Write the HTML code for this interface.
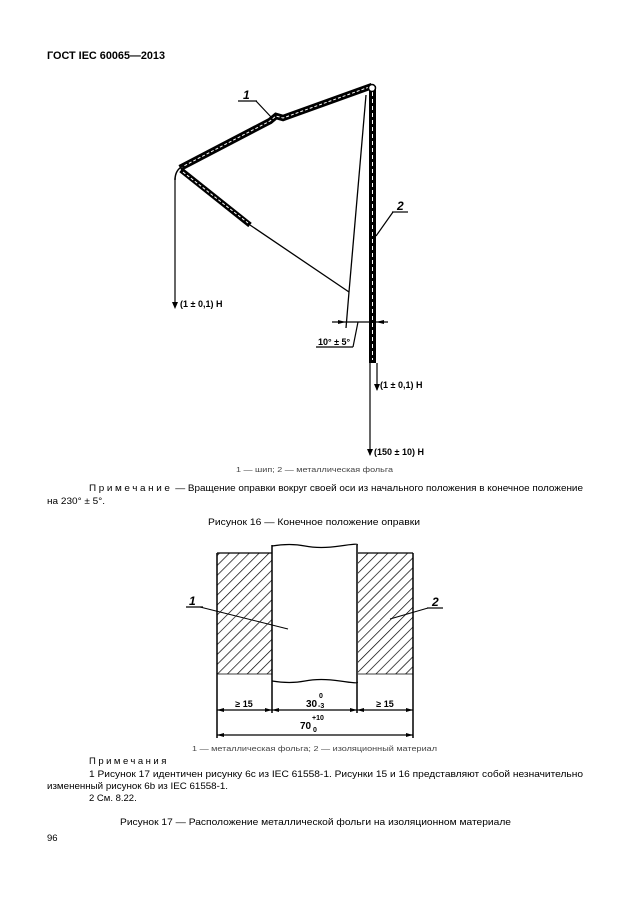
<!DOCTYPE html>
<html><head><meta charset="utf-8"><style>
html,body{margin:0;padding:0;background:#fff;}
svg{display:block;}
text{font-family:"Liberation Sans",sans-serif;}
</style></head><body>
<svg width="630" height="913" viewBox="0 0 630 913" xmlns="http://www.w3.org/2000/svg">
<defs>
<pattern id="h" width="7" height="7" patternUnits="userSpaceOnUse" patternTransform="rotate(45)">
<line x1="0" y1="0" x2="0" y2="7" stroke="#000" stroke-width="1.4"/>
</pattern>
</defs>
<text x="47" y="59" font-size="11" font-weight="bold" textLength="118" lengthAdjust="spacingAndGlyphs">ГОСТ IEC 60065—2013</text>

<!-- Figure 16 -->
<g fill="none" stroke="#000">
<path d="M180,168 L270,121 L276,116 L283,118 L372,86" stroke-width="6.5"/>
<path d="M180,168 L270,121 L276,116 L283,118 L372,86" stroke="#fff" stroke-width="1" stroke-dasharray="3,2"/>
<line x1="372.5" y1="86" x2="372.5" y2="363" stroke-width="7"/>
<line x1="372.5" y1="92" x2="372.5" y2="360" stroke="#fff" stroke-width="1" stroke-dasharray="4,3"/>
<circle cx="372" cy="88" r="3.5" fill="#fff" stroke-width="1.5"/>
<line x1="181" y1="170" x2="250" y2="225" stroke-width="5.5"/>
<line x1="183" y1="172" x2="248" y2="223" stroke="#fff" stroke-width="1" stroke-dasharray="3,2"/>
<path d="M183,166 Q175,170 175,180" stroke-width="1.5"/>
<line x1="250" y1="225" x2="349" y2="292" stroke-width="1.3"/>
<line x1="366" y1="95" x2="349" y2="292" stroke-width="1.3"/>
<line x1="349" y1="292" x2="346" y2="328" stroke-width="1.3"/>
<line x1="175" y1="178" x2="175" y2="307" stroke-width="1.2"/>
<line x1="377" y1="363" x2="377" y2="390" stroke-width="1.2"/>
<line x1="370" y1="363" x2="370" y2="455" stroke-width="1.2"/>
<line x1="332" y1="322" x2="388" y2="322" stroke-width="1.2"/>
<line x1="358" y1="322" x2="353" y2="347" stroke-width="1.2"/>
<line x1="316" y1="347" x2="353" y2="347" stroke-width="1.2"/>
<line x1="238" y1="101" x2="257" y2="101" stroke-width="1.2"/>
<line x1="256" y1="101" x2="272" y2="118" stroke-width="1.2"/>
<line x1="392" y1="212" x2="408" y2="212" stroke-width="1.2"/>
<line x1="393" y1="212" x2="376" y2="236" stroke-width="1.2"/>
</g>
<g fill="#000">
<polygon points="172,302 178,302 175,309"/>
<polygon points="374,384 380,384 377,391"/>
<polygon points="367,449 373,449 370,456"/>
<polygon points="338,320 346,322 338,324"/>
<polygon points="384,320 376,322 384,324"/>
</g>
<text x="243" y="99" font-size="12" font-weight="bold" font-style="italic">1</text>
<text x="397" y="210" font-size="12" font-weight="bold" font-style="italic">2</text>
<text x="180" y="307" font-size="9" font-weight="bold">(1 ± 0,1) H</text>
<text x="318" y="345" font-size="9" font-weight="bold">10° ± 5°</text>
<text x="380" y="388" font-size="9" font-weight="bold">(1 ± 0,1) H</text>
<text x="374" y="455" font-size="9" font-weight="bold">(150 ± 10) H</text>

<text x="236" y="472" font-size="7.5" fill="#444" textLength="157" lengthAdjust="spacingAndGlyphs">1 — шип; 2 — металлическая фольга</text>
<text x="89" y="491" font-size="9.5" textLength="494" lengthAdjust="spacingAndGlyphs"><tspan letter-spacing="2.5">Примечание</tspan> — Вращение оправки вокруг своей оси из начального положения в конечное положение</text>
<text x="47" y="504" font-size="9.5" textLength="58" lengthAdjust="spacingAndGlyphs">на 230° ± 5°.</text>
<text x="208" y="525" font-size="9.5" textLength="212" lengthAdjust="spacingAndGlyphs">Рисунок 16 — Конечное положение оправки</text>

<!-- Figure 17 -->
<rect x="217" y="553" width="55" height="121" fill="url(#h)"/>
<rect x="358" y="553" width="55" height="121" fill="url(#h)"/>
<g fill="none" stroke="#000">
<line x1="217" y1="553" x2="272" y2="553" stroke-width="1.3"/>
<line x1="358" y1="553" x2="413" y2="553" stroke-width="1.3"/>
<line x1="217" y1="553" x2="217" y2="738" stroke-width="1.5"/>
<line x1="413" y1="553" x2="413" y2="738" stroke-width="1.5"/>
<line x1="272" y1="545" x2="272" y2="713" stroke-width="1.5"/>
<line x1="357" y1="545" x2="357" y2="713" stroke-width="1.5"/>
<line x1="217" y1="674" x2="272" y2="674" stroke-width="0.8"/>
<line x1="358" y1="674" x2="413" y2="674" stroke-width="0.8"/>
<path d="M272,546 Q290,543 305,546 T340,546 T357,545" stroke-width="1.2"/>
<path d="M272,681 Q290,684 305,681 T340,681 T357,682" stroke-width="1.2"/>
<line x1="217" y1="710" x2="413" y2="710" stroke-width="1.2"/>
<line x1="217" y1="735" x2="413" y2="735" stroke-width="1.2"/>
<line x1="186" y1="607" x2="203" y2="607" stroke-width="1.2"/>
<line x1="200" y1="607" x2="288" y2="629" stroke-width="1"/>
<line x1="427" y1="608" x2="443" y2="608" stroke-width="1.2"/>
<line x1="428" y1="608" x2="390" y2="619" stroke-width="1"/>
</g>
<g fill="#000">
<polygon points="217,710 224,708 224,712"/><polygon points="272,710 265,708 265,712"/>
<polygon points="272,710 279,708 279,712"/><polygon points="357,710 350,708 350,712"/>
<polygon points="357,710 364,708 364,712"/><polygon points="413,710 406,708 406,712"/>
<polygon points="217,735 224,733 224,737"/><polygon points="413,735 406,733 406,737"/>
</g>
<text x="189" y="605" font-size="12" font-weight="bold" font-style="italic">1</text>
<text x="432" y="606" font-size="12" font-weight="bold" font-style="italic">2</text>
<text x="244" y="707" font-size="9" font-weight="bold" text-anchor="middle">≥ 15</text>
<text x="385" y="707" font-size="9" font-weight="bold" text-anchor="middle">≥ 15</text>
<text x="306" y="707" font-size="10" font-weight="bold">30</text>
<text x="319" y="698" font-size="7" font-weight="bold">0</text>
<text x="318" y="708" font-size="7" font-weight="bold">-3</text>
<text x="300" y="729" font-size="10" font-weight="bold">70</text>
<text x="312" y="720" font-size="7" font-weight="bold">+10</text>
<text x="313" y="732" font-size="7" font-weight="bold">0</text>

<text x="192" y="751" font-size="7.5" fill="#444" textLength="245" lengthAdjust="spacingAndGlyphs">1 — металлическая фольга; 2 — изоляционный материал</text>
<text x="89" y="764" font-size="9.5" letter-spacing="2.5">Примечания</text>
<text x="89" y="777" font-size="9.5" textLength="494" lengthAdjust="spacingAndGlyphs">1 Рисунок 17 идентичен рисунку 6c из IEC 61558-1. Рисунки 15 и 16 представляют собой незначительно</text>
<text x="47" y="789" font-size="9.5" textLength="181" lengthAdjust="spacingAndGlyphs">измененный рисунок 6b из IEC 61558-1.</text>
<text x="89" y="801" font-size="9.5">2 См. 8.22.</text>
<text x="120" y="825" font-size="9.5" textLength="391" lengthAdjust="spacingAndGlyphs">Рисунок 17 — Расположение металлической фольги на изоляционном материале</text>
<text x="47" y="841" font-size="9.5">96</text>
</svg>
</body></html>
